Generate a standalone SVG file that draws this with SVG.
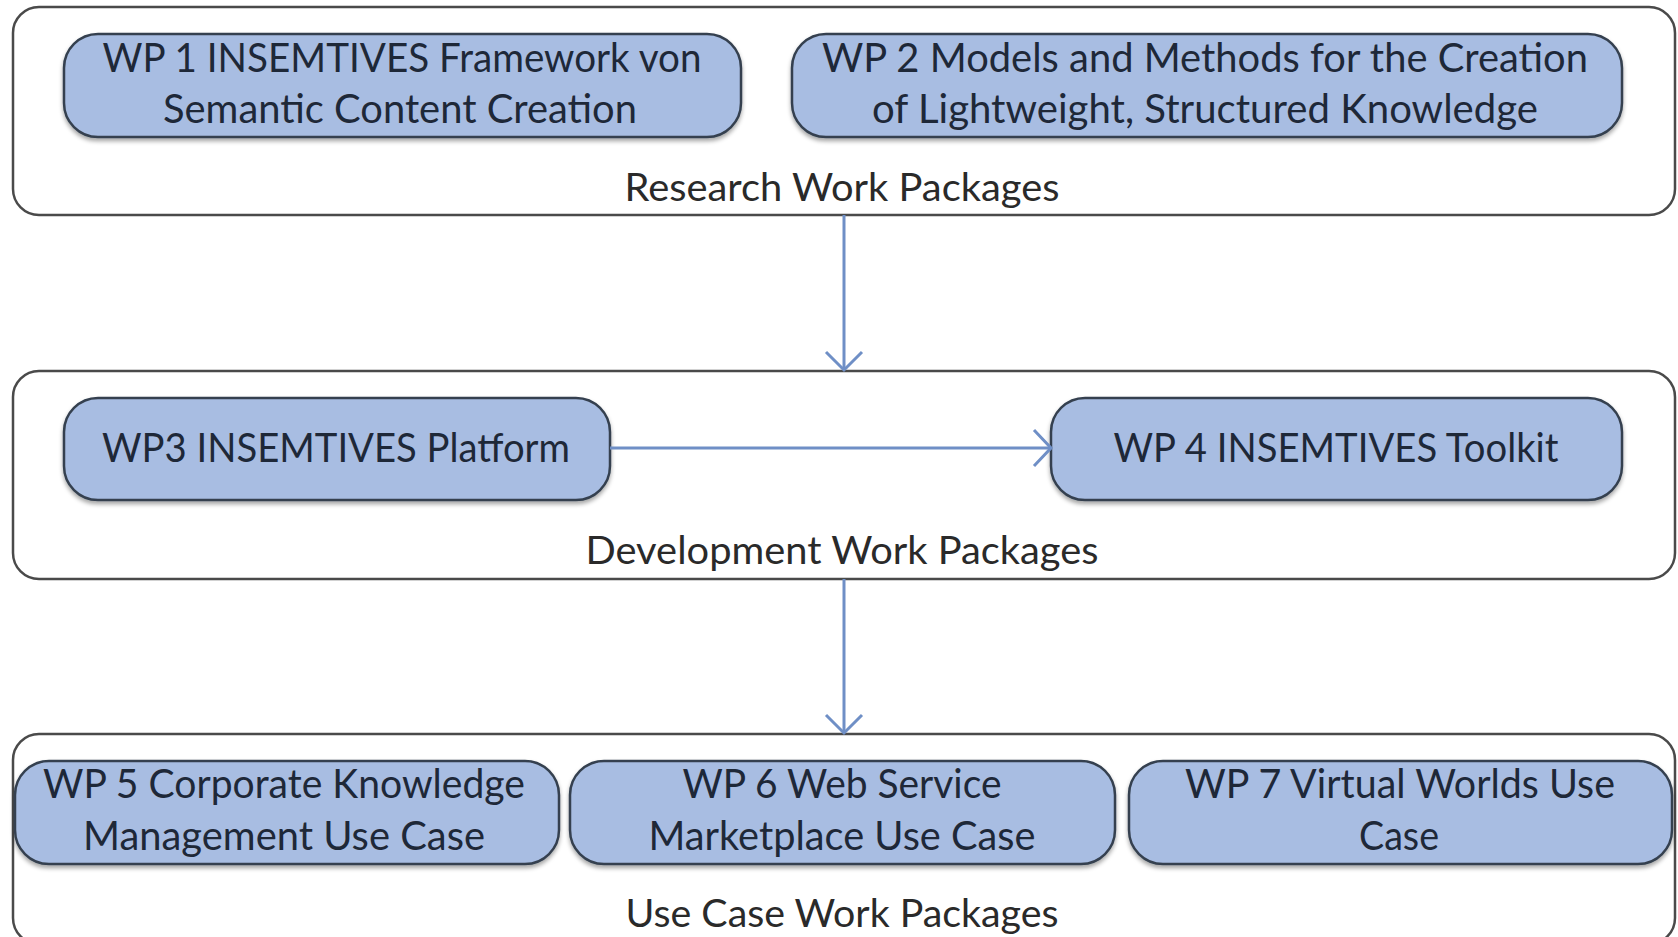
<svg xmlns="http://www.w3.org/2000/svg" width="1678" height="937" viewBox="0 0 1678 937">
<style>
.container{fill:#ffffff;stroke:#4a4a4a;stroke-width:2.5}
.node{fill:#a8bde2;stroke:#34404f;stroke-width:2.5}
.t{font-family:Lato,"Open Sans","Liberation Sans",sans-serif;font-size:40px;fill:#1e2838;text-anchor:middle}
.lbl{font-family:Lato,"Open Sans","Liberation Sans",sans-serif;font-size:38px;fill:#2a2a2a;text-anchor:middle}
.conn{stroke:#6f8fc6;stroke-width:3;fill:none}
</style>
<defs>
<filter id="sh" x="-5%" y="-10%" width="110%" height="130%">
<feDropShadow dx="0" dy="3" stdDeviation="2" flood-color="#000" flood-opacity="0.35"/>
</filter>
</defs>
<rect width="1678" height="937" fill="#ffffff"/>

<g id="research">
<rect class="container" x="13" y="7" width="1662" height="208" rx="26"/>
<text class="lbl" x="842" y="201" textLength="435" lengthAdjust="spacingAndGlyphs">Research Work Packages</text>
</g>
<g id="development">
<rect class="container" x="13" y="371" width="1662" height="208" rx="26"/>
<text class="lbl" x="842" y="564" textLength="513" lengthAdjust="spacingAndGlyphs">Development Work Packages</text>
</g>
<g id="usecase">
<rect class="container" x="13" y="734" width="1662" height="210" rx="26"/>
<text class="lbl" x="842" y="927" textLength="433" lengthAdjust="spacingAndGlyphs">Use Case Work Packages</text>
</g>

<g id="wp1">
<rect class="node" filter="url(#sh)" x="64" y="34" width="677" height="103" rx="34"/>
<text class="t" x="402" y="72" textLength="599" lengthAdjust="spacingAndGlyphs">WP 1 INSEMTIVES Framework von</text>
<text class="t" x="400" y="123" textLength="474" lengthAdjust="spacingAndGlyphs">Semantic Content Creation</text>
</g>
<g id="wp2">
<rect class="node" filter="url(#sh)" x="792" y="34" width="830" height="103" rx="34"/>
<text class="t" x="1205" y="72" textLength="766" lengthAdjust="spacingAndGlyphs">WP 2 Models and Methods for the Creation</text>
<text class="t" x="1205" y="123" textLength="666" lengthAdjust="spacingAndGlyphs">of Lightweight, Structured Knowledge</text>
</g>
<g id="wp3">
<rect class="node" filter="url(#sh)" x="64" y="398" width="546" height="102" rx="34"/>
<text class="t" x="336" y="462" textLength="468" lengthAdjust="spacingAndGlyphs">WP3 INSEMTIVES Platform</text>
</g>
<g id="wp4">
<rect class="node" filter="url(#sh)" x="1051" y="398" width="571" height="102" rx="34"/>
<text class="t" x="1336" y="462" textLength="445" lengthAdjust="spacingAndGlyphs">WP 4 INSEMTIVES Toolkit</text>
</g>
<g id="wp5">
<rect class="node" filter="url(#sh)" x="15" y="761" width="544" height="103" rx="34"/>
<text class="t" x="284" y="798" textLength="482" lengthAdjust="spacingAndGlyphs">WP 5 Corporate Knowledge</text>
<text class="t" x="284" y="850" textLength="402" lengthAdjust="spacingAndGlyphs">Management Use Case</text>
</g>
<g id="wp6">
<rect class="node" filter="url(#sh)" x="570" y="761" width="545" height="103" rx="34"/>
<text class="t" x="842" y="798" textLength="319" lengthAdjust="spacingAndGlyphs">WP 6 Web Service</text>
<text class="t" x="842" y="850" textLength="387" lengthAdjust="spacingAndGlyphs">Marketplace Use Case</text>
</g>
<g id="wp7">
<rect class="node" filter="url(#sh)" x="1129" y="761" width="543" height="103" rx="34"/>
<text class="t" x="1400" y="798" textLength="430" lengthAdjust="spacingAndGlyphs">WP 7 Virtual Worlds Use</text>
<text class="t" x="1399" y="850" textLength="80" lengthAdjust="spacingAndGlyphs">Case</text>
</g>

<g id="connectors">
<path class="conn" d="M844 215 V370"/>
<path class="conn" d="M826 352 L844 370 L862 352"/>
<path class="conn" d="M610 448 H1050"/>
<path class="conn" d="M1034 430 L1051 448 L1034 466"/>
<path class="conn" d="M844 579 V733"/>
<path class="conn" d="M826 715 L844 733 L862 715"/>
</g>
</svg>
